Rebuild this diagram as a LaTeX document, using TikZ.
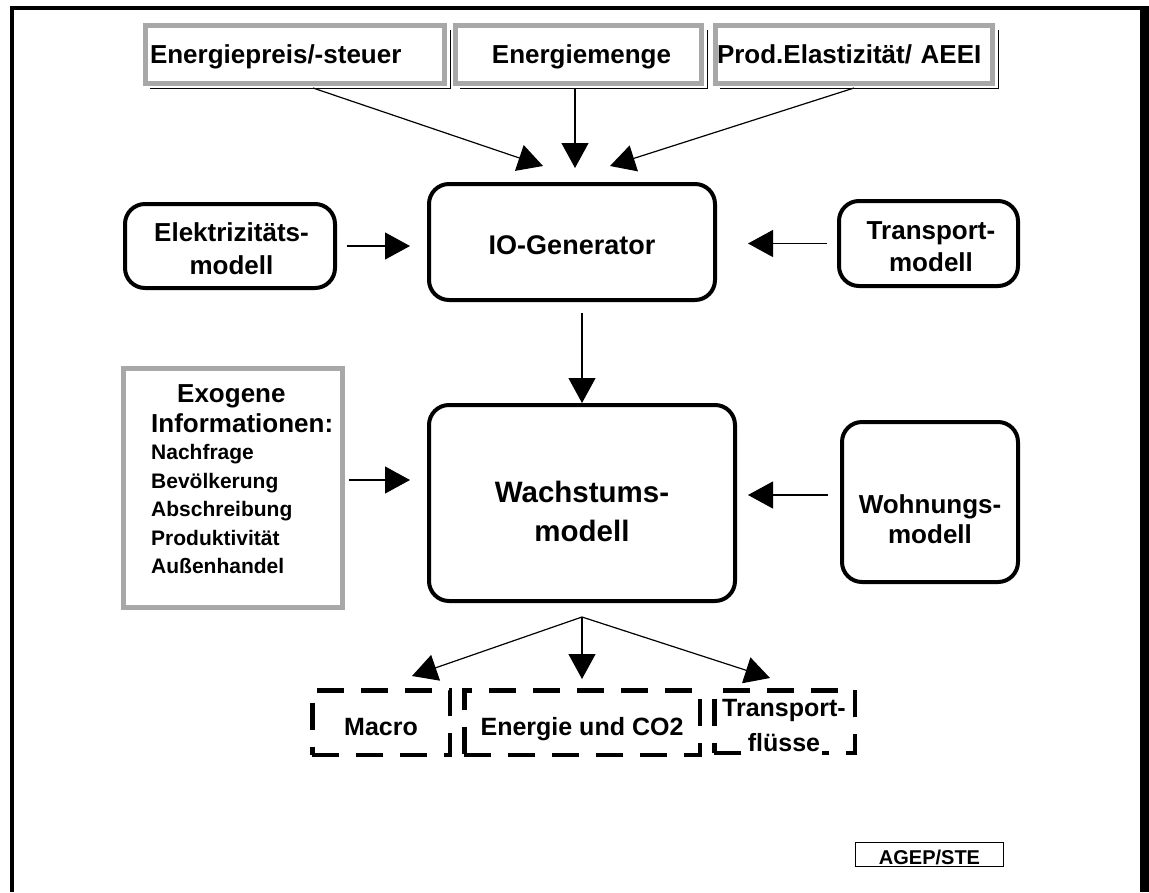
\documentclass[tikz,border=0pt]{standalone}
\usepackage{fontspec}
\setmainfont{Liberation Sans}
\usetikzlibrary{arrows.meta}
\definecolor{bandgray}{RGB}{168,168,168}
\setlength{\fboxsep}{1.5pt}
\begin{document}
\begin{tikzpicture}[x=1pt,y=-1pt,
  lbl/.style={font=\bfseries\fontsize{26}{33}\selectfont, align=center, inner sep=0pt},
  txt/.style={lbl, anchor=north},
  rbox/.style={lbl, draw, line width=4pt, rounded corners=20pt},
  band/.style={lbl, draw=bandgray, line width=5pt, text height=18.6pt, text depth=0pt},
  dbox/.style={lbl, draw, line width=4.5pt, dash pattern=on 27pt off 17pt,
               font=\bfseries\fontsize{25}{35}\selectfont},
  conn/.style={line width=1.2pt, -{Triangle[length=25pt,width=27pt]}},
  shadowline/.style={line width=1pt}
]
\useasboundingbox (0,0) rectangle (1149,892);

% outer frame, open at the bottom
\draw[line width=4pt] (12,892) -- (12,8) -- (1144,8);
\fill (1140,6) rectangle (1149,892);

% input boxes along the top
\node[band, minimum width=299pt, minimum height=58pt, text width=290pt, align=left]
  (ep) at (295,54.5) {Energiepreis/-steuer};
\node[band, minimum width=246pt, minimum height=58pt]
  (em) at (578.5,54.5) {\hspace*{6pt}Energiemenge};
\node[band, minimum width=277pt, minimum height=58pt, text width=274pt, align=left]
  (pe) at (854,54.5) {Prod.Elastizität/ AEEI};
\foreach \b in {ep,em,pe}
  \draw[shadowline] ([xshift=7pt,yshift=-2pt]\b.south west) -| ([xshift=3pt,yshift=-7pt]\b.north east);

% model boxes
\node[rbox, minimum width=286pt, minimum height=116pt, text height=25.4pt, text depth=0pt,
      font=\bfseries\fontsize{27}{33}\selectfont]
  (io) at (572,242) {IO-Generator};
\node[rbox, minimum width=210pt, minimum height=84pt] (el) at (230,246) {};
\node[txt, font=\bfseries\fontsize{26}{33}\selectfont] (el-t) at (231.5,222) {Elektrizitäts-\\modell};
\node[rbox, minimum width=179pt, minimum height=85pt] (tr) at (928.5,243.5) {};
\node[txt, font=\bfseries\fontsize{26}{32}\selectfont] (tr-t) at (931,221.5) {Transport-\\modell};
\node[rbox, minimum width=306pt, minimum height=196pt] (wm) at (582,503) {};
\node[txt, font=\bfseries\fontsize{29.5}{39}\selectfont] (wm-t) at (582,480.5) {Wachstums-\\modell};
\node[rbox, minimum width=176pt, minimum height=160pt] (wo) at (930,502) {};
\node[txt, font=\bfseries\fontsize{26}{30}\selectfont] (wo-t) at (930,494) {Wohnungs-\\modell};

% exogenous information
\node[band, minimum width=219pt, minimum height=239pt] (exo) at (233,488) {};
\node[anchor=north west, inner sep=0pt, align=left, font=\bfseries\fontsize{21}{28.5}\selectfont]
  (exo-t) at (151,384.5)
  {\hspace*{26pt}{\fontsize{26}{30}\selectfont Exogene}\\[1.5pt]
   {\fontsize{26}{30}\selectfont Informationen:}\\[-1.5pt]
   Nachfrage\\Bevölkerung\\Abschreibung\\Produktivität\\Außenhandel};

% result boxes
\node[dbox, text height=26pt, text depth=0pt, minimum width=137.5pt, minimum height=64.5pt]
  (mac) at (381,722.5) {Macro};
\node[dbox, text height=26pt, text depth=0pt, minimum width=235.5pt, minimum height=64.5pt]
  (enc) at (582,722.5) {Energie und CO2};
\node[dbox, minimum width=140.5pt, minimum height=62.5pt] (tfl) at (784.5,721.5) {};
\node[txt, font=\bfseries\fontsize{25}{35}\selectfont] (tfl-t) at (784,699.5)
  {Transport-\\\colorbox{white}{\vphantom{g}flüsse}};

% label
\node[draw, line width=1.3pt, minimum width=148pt, minimum height=24pt, inner sep=0pt,
      text height=19pt, text depth=0pt, font=\bfseries\fontsize{20}{24}\selectfont]
  (agep) at (929.5,854.5) {AGEP/STE};

% connectors
\coordinate (t1) at (543,166);
\coordinate (t2) at (575,168);
\coordinate (t3) at (610,166);
\draw[conn] ([xshift=18pt,yshift=-2pt]ep.south) -- (t1);
\draw[conn] ([yshift=-2pt]em.south -| t2) -- (t2);
\draw[conn] ([yshift=-2pt]pe.south) -- (t3);

\draw[conn] ([xshift=10pt]el.east) -- ([xshift=-17pt]el.east -| io.west);
\draw[conn] ([xshift=-10pt]tr.west) -- ([xshift=31pt]tr.west -| io.east);
\draw[conn] ([yshift=-11pt]io.south -| wm.north) -- (wm.north);
\draw[conn] ([xshift=4pt,yshift=8pt]exo.east) -- ([xshift=-17pt,yshift=8pt]exo.east -| wm.west);
\draw[conn] ([xshift=-12pt,yshift=7pt]wo.west) -- ([xshift=11pt,yshift=7pt]wo.west -| wm.east);

\coordinate (split) at ([yshift=-14pt]wm.south);
\draw[conn] (split) -- ([xshift=31pt,yshift=12pt]mac.north);
\draw[conn] (split) -- ([yshift=9pt]enc.north);
\draw[conn] (split) -- ([xshift=-14.5pt,yshift=10pt]tfl.north);
\end{tikzpicture}
\end{document}
